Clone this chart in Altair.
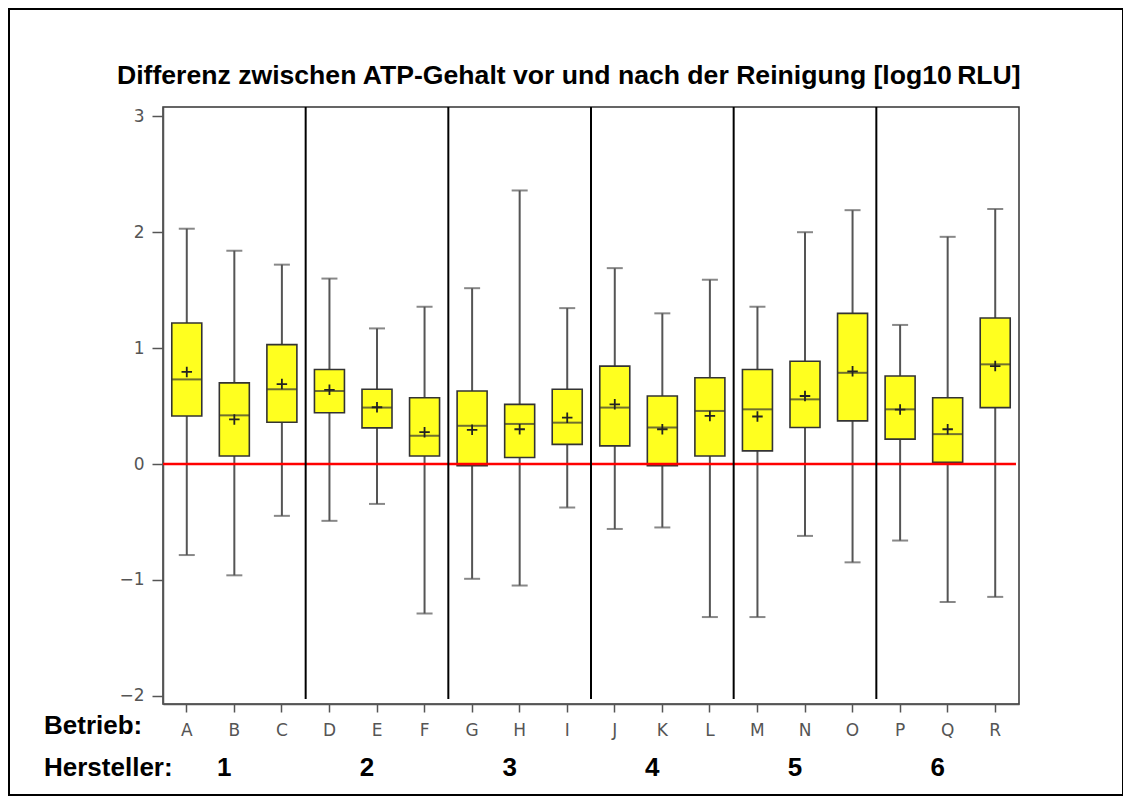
import altair as alt
import pandas as pd

# ---- data ----
betrieb = list("ABCDEFGHIJKLMNOPQR")
lower = [-0.785, -0.96, -0.447, -0.49, -0.344, -1.29, -0.99, -1.048, -0.375,
         -0.56, -0.547, -1.32, -1.32, -0.62, -0.848, -0.66, -1.19, -1.146]
q1 = [0.415, 0.07, 0.36, 0.443, 0.312, 0.07, -0.015, 0.057, 0.17,
      0.157, -0.015, 0.07, 0.114, 0.315, 0.372, 0.215, 0.014, 0.487]
median = [0.73, 0.42, 0.645, 0.63, 0.487, 0.243, 0.33, 0.346, 0.357,
          0.487, 0.315, 0.458, 0.472, 0.558, 0.787, 0.472, 0.258, 0.86]
q3 = [1.217, 0.70, 1.03, 0.816, 0.645, 0.572, 0.63, 0.515, 0.645,
      0.845, 0.587, 0.745, 0.816, 0.887, 1.30, 0.759, 0.572, 1.26]
upper = [2.03, 1.84, 1.72, 1.60, 1.17, 1.357, 1.517, 2.36, 1.345,
         1.69, 1.30, 1.59, 1.357, 2.00, 2.19, 1.20, 1.96, 2.20]
mean = [0.795, 0.385, 0.69, 0.64, 0.49, 0.275, 0.295, 0.30, 0.40,
        0.515, 0.30, 0.415, 0.41, 0.587, 0.80, 0.47, 0.30, 0.845]

group_start = ["D", "G", "J", "M", "P"]          # first Betrieb of Hersteller 2..6
hersteller_labels = ["1", "2", "3", "4", "5", "6"]
hersteller_center = ["B", "E", "H", "K", "N", "Q"]
y_ticks = [-2, -1, 0, 1, 2, 3]
title_text = "Differenz zwischen ATP-Gehalt vor und nach der Reinigung [log10\u2009RLU]"

df = pd.DataFrame(dict(Betrieb=betrieb, lower=lower, q1=q1, median=median,
                       q3=q3, upper=upper, mean=mean))
sep_df = pd.DataFrame(dict(Betrieb=group_start))
her_df = pd.DataFrame(dict(Betrieb=hersteller_center, label=hersteller_labels))
zero_df = pd.DataFrame(dict(v=[0]))
one_df = pd.DataFrame(dict(t=[title_text]))

W, H = 856, 597
xscale = alt.Scale(domain=betrieb, paddingInner=0, paddingOuter=0)
yscale = alt.Scale(domain=[-2.07, 3.08], nice=False, zero=False)

xaxis = alt.Axis(title=None, labelAngle=0, tickSize=8, labelPadding=10,
                 labelFont="DejaVu Sans", labelFontSize=17, labelColor="#555",
                 domainColor="#555", tickColor="#555", domainWidth=1.5, tickWidth=1.5)
yaxis = alt.Axis(title=None, values=y_ticks, format="d", grid=False, tickSize=11,
                 labelPadding=8, labelFont="DejaVu Sans", labelFontSize=17,
                 labelColor="#555", domainColor="#555", tickColor="#555",
                 domainWidth=1.5, tickWidth=1.5)

X = alt.X("Betrieb:N", scale=xscale, axis=xaxis)
base = alt.Chart(df)

whisker = base.mark_rule(color="#555", strokeWidth=2).encode(
    x=X, y=alt.Y("lower:Q", scale=yscale, axis=yaxis), y2="upper:Q")
cap_lo = base.mark_tick(color="#555", thickness=2, size=16).encode(x=X, y=alt.Y("lower:Q"))
cap_hi = base.mark_tick(color="#555", thickness=2, size=16).encode(x=X, y=alt.Y("upper:Q"))
box = base.mark_bar(size=30, fill="#ffff1f", stroke="#333", strokeWidth=1.6).encode(
    x=X, y=alt.Y("q1:Q"), y2="q3:Q")
zero = alt.Chart(zero_df).mark_rule(color="#ff0000", strokeWidth=2.5).encode(
    y=alt.Y("v:Q"), x=alt.value(0), x2=alt.value(W - 3))
med = base.mark_tick(color="#333", thickness=2, size=30).encode(x=X, y=alt.Y("median:Q"))
mn = base.mark_point(shape="M-1,0L1,0M0,-1L0,1", size=110, filled=False,
                     color="#222", strokeWidth=1.8, opacity=1).encode(x=X, y=alt.Y("mean:Q"))
seps = alt.Chart(sep_df).mark_rule(color="#000", strokeWidth=2).encode(
    x=alt.X("Betrieb:N", bandPosition=0), y=alt.value(0), y2=alt.value(H - 5))

FS = 26
her = alt.Chart(her_df).mark_text(font="Liberation Sans", fontWeight="bold", fontSize=FS,
                                  align="center", baseline="alphabetic", dx=-10,
                                  color="#000").encode(
    x=alt.X("Betrieb:N"), y=alt.value(H + 72), text="label:N")
betr_lbl = alt.Chart(one_df).mark_text(font="Liberation Sans", fontWeight="bold", fontSize=FS,
                                       align="left", baseline="alphabetic", color="#000",
                                       text="Betrieb:").encode(
    x=alt.value(-119), y=alt.value(H + 30))
hers_lbl = alt.Chart(one_df).mark_text(font="Liberation Sans", fontWeight="bold", fontSize=FS,
                                       align="left", baseline="alphabetic", color="#000",
                                       text="Hersteller:").encode(
    x=alt.value(-119), y=alt.value(H + 72))
title = alt.Chart(one_df).mark_text(font="Liberation Sans", fontWeight="bold", fontSize=26.6,
                                    align="left", baseline="alphabetic", color="#000").encode(
    x=alt.value(-46), y=alt.value(-23), text="t:N")
frame = alt.Chart(one_df).mark_rect(fill=None, stroke="#000", strokeWidth=2).encode(
    x=alt.value(-154), x2=alt.value(960), y=alt.value(-98), y2=alt.value(688))

chart = alt.layer(frame, whisker, cap_lo, cap_hi, box, zero, med, mn, seps,
                  her, betr_lbl, hers_lbl, title).properties(
    width=W, height=H,
    autosize=alt.AutoSizeParams(type="none"),
    padding={"left": 155, "top": 99, "right": 104, "bottom": 93},
    background="white",
).configure_view(stroke="#333", strokeWidth=1.5)

chart.save("out.html", embed_options={"renderer": "svg", "actions": False})
